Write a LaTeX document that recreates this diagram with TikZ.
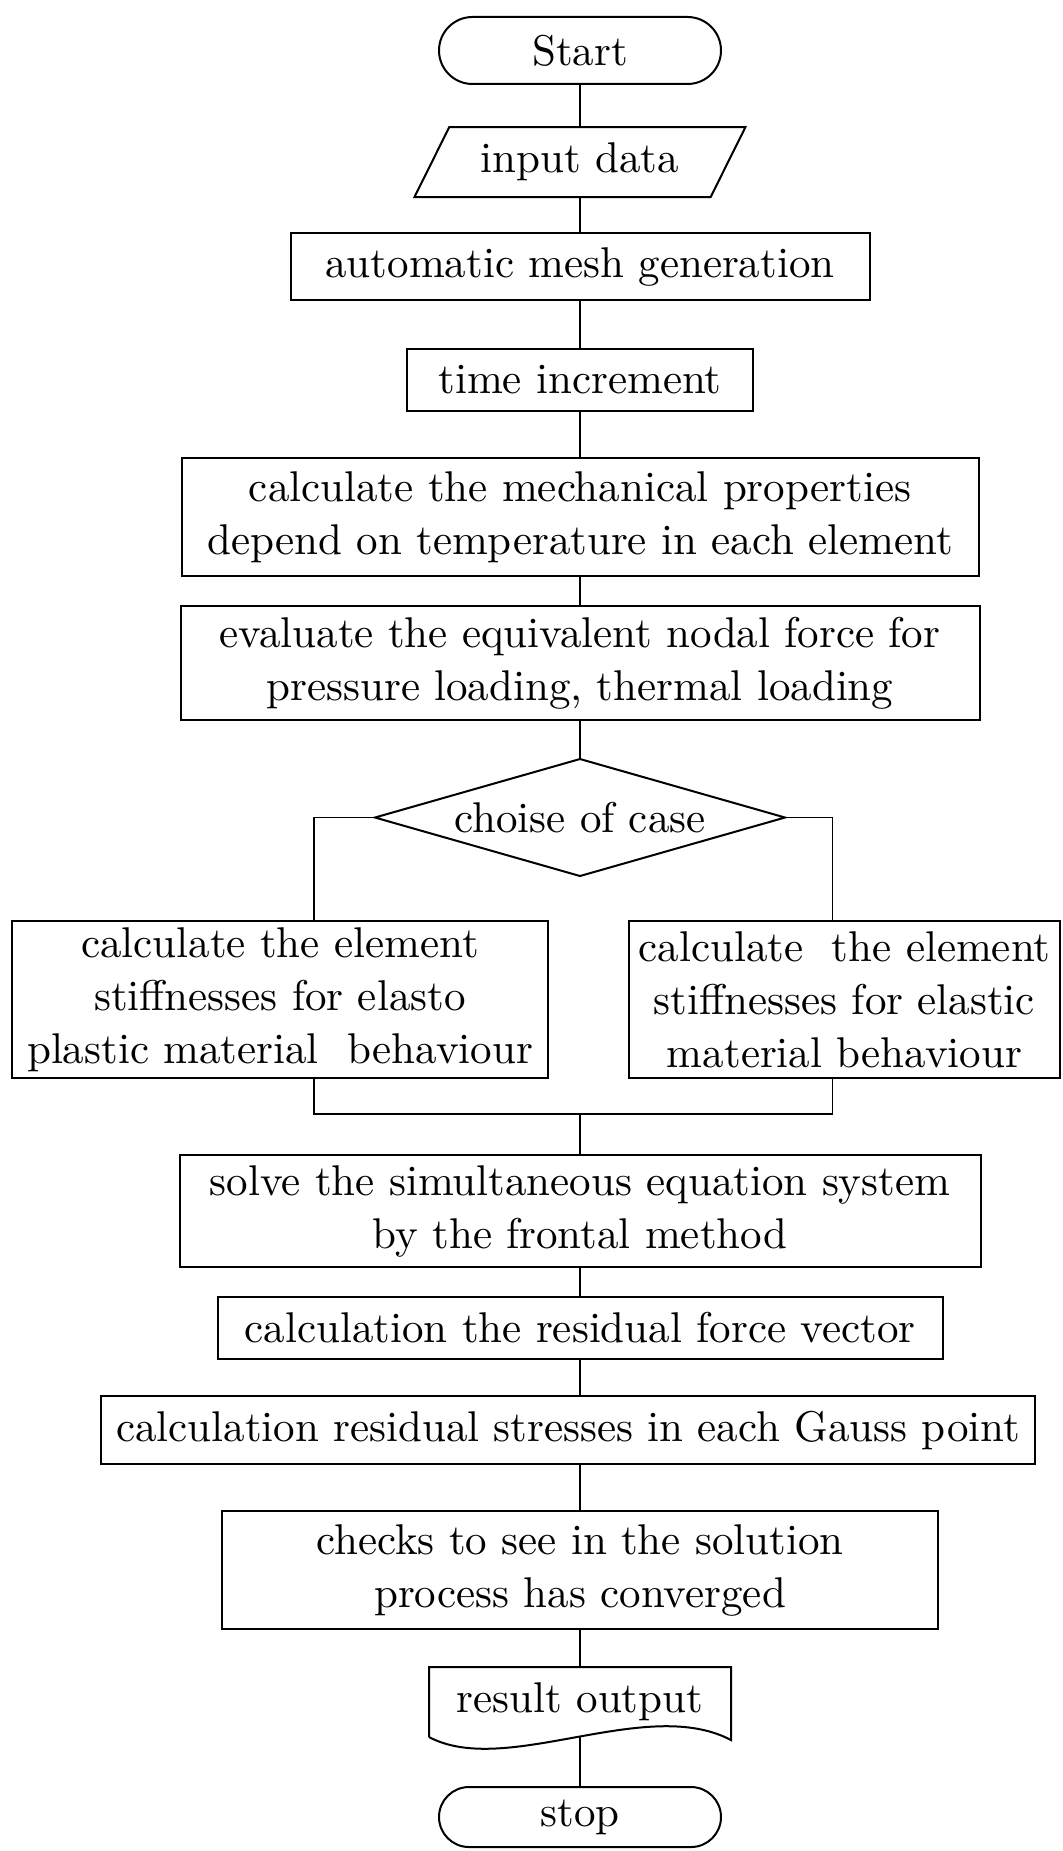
\documentclass[tikz,border=0pt]{standalone}
\usepackage{fontspec}
\setmainfont{lmroman10-regular.otf}[Ligatures=TeX]
\usepackage{tikz}
\usetikzlibrary{positioning,calc,shapes.geometric,shapes.misc}

\begin{document}
\begin{tikzpicture}[
  font=\fontsize{21.5}{26.5}\selectfont,
  box/.style={draw, line width=1pt, align=center, inner sep=2pt, outer sep=0pt},
  proc/.style={box, rectangle},
  term/.style={box, rounded rectangle, minimum width=145pt, minimum height=33.5pt},
  io/.style={box, trapezium, trapezium left angle=53, trapezium right angle=127,
    trapezium stretches body, minimum width=165.5pt, minimum height=35pt},
  decision/.style={box, diamond, aspect=3.5, inner sep=0pt},
  line/.style={line width=0.9pt},
]
\useasboundingbox (0,0) rectangle (531pt,-925.5pt);

% Main column, top to bottom.
\node[term] (start) at (290pt,-25.25pt) {Start};
\node[io] (input) [below=21.5pt of start] {input data};
\node[proc, minimum width=289.5pt, minimum height=33.5pt] (mesh) [below=18pt of input] {automatic mesh generation};
\node[proc, minimum width=173pt, minimum height=31pt] (time) [below=24.5pt of mesh] {time increment};
\node[proc, minimum width=398.5pt, minimum height=59pt] (props) [below=23.5pt of time]
  {calculate the mechanical properties\\depend on temperature in each element};
\node[proc, minimum width=399.5pt, minimum height=57pt] (force) [below=15pt of props]
  {evaluate the equivalent nodal force for\\pressure loading, thermal loading};
\node[decision, minimum width=205pt, minimum height=58.5pt] (case) [below=19.5pt of force] {choise of case};

% The two cases side by side.
\node[proc, minimum width=268pt, minimum height=78.5pt] (plastic) [below=22.5pt of case, xshift=-150pt]
  {calculate the element\\stiffnesses for elasto\\plastic material\ \ behaviour};
\node[proc, minimum width=215.5pt, minimum height=78.5pt] (elastic) [below=22.5pt of case, xshift=132.25pt]
  {calculate\ \ the element\\stiffnesses for elastic\\material behaviour};

% Column again below the merge.
\node[proc, minimum width=400.5pt, minimum height=56pt] (solve) [below=139.5pt of case]
  {solve the simultaneous equation system\\by the frontal method};
\coordinate[above=20.5pt of solve.north] (join);
\node[proc, minimum width=362.5pt, minimum height=31pt] (resid) [below=15pt of solve] {calculation the residual force vector};
\node[proc, minimum width=467pt, minimum height=34pt] (gauss) [below=18.5pt of resid, xshift=-6pt] {calculation residual stresses in each Gauss point};
\node[proc, minimum width=358pt, minimum height=59pt] (check) [below=23.5pt of gauss, xshift=6pt]
  {checks to see in the solution\\process has converged};
\node[minimum width=151pt, minimum height=35pt, inner sep=2pt, outer sep=0pt] (output) [below=19pt of check] {result output};
\node[term, minimum height=30pt] (stop) [below=25pt of output] {stop};

% Document symbol with the wavy bottom edge.
\draw[line width=1pt] (output.south west) -- (output.north west) -- (output.north east)
  -- ([yshift=-1.5pt]output.south east)
  .. controls ($(output.south west)+(108.5pt,21pt)$) and ($(output.south west)+(38.5pt,-20.5pt)$) .. (output.south west);

% Connectors.
\draw[line] (start) -- (input);
\draw[line] (input) -- (mesh);
\draw[line] (mesh) -- (time);
\draw[line] (time) -- (props);
\draw[line] (props) -- (force);
\draw[line] (force) -- (case);
\draw[line] (case.west) -| ($(plastic.north)+(17pt,0)$);
\draw[line] (case.east) -| ($(elastic.north)+(-6pt,0)$);
\draw[line] ($(plastic.south)+(17pt,0)$) |- (join) -| ($(elastic.south)+(-6pt,0)$);
\draw[line] (join) -- (solve);
\draw[line] (solve) -- (resid);
\draw[line] (resid) -- (resid |- gauss.north);
\draw[line] (gauss.south -| check) -- (check);
\draw[line] (check) -- (output);
\draw[line] (output.south) -- (stop);

\end{tikzpicture}
\end{document}
